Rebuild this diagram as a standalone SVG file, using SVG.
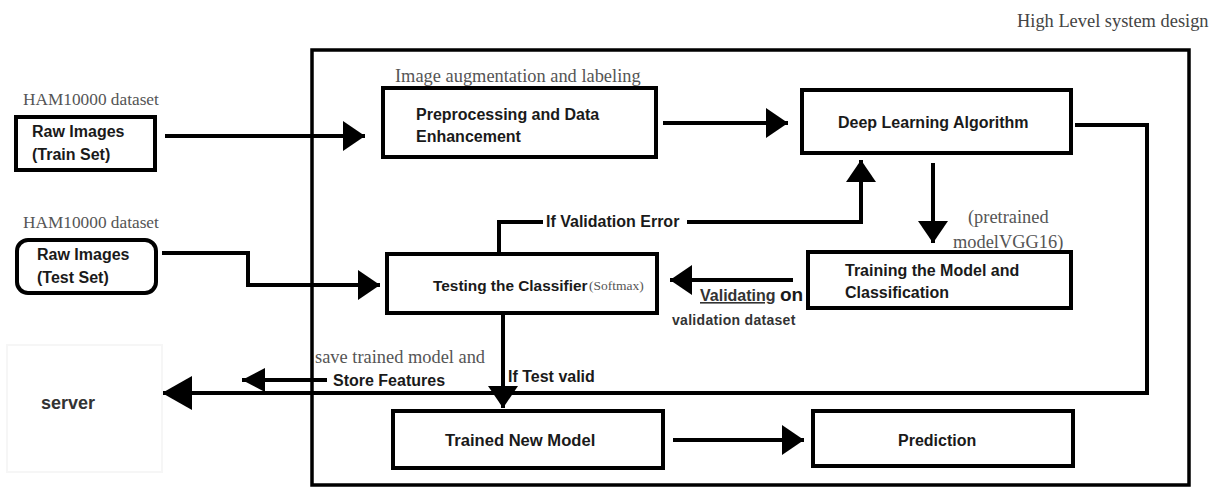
<svg xmlns="http://www.w3.org/2000/svg" width="1222" height="487" viewBox="0 0 1222 487">
<style>
.box{fill:#fff;stroke:#000;stroke-width:4}
.frame{fill:none;stroke:#000;stroke-width:3.5}
.ln{fill:none;stroke:#000;stroke-width:4}
.lbl{font-family:"Liberation Sans",Arial,sans-serif;font-weight:bold;font-size:16px;fill:#1a1a1a}
.ser{font-family:"Liberation Serif","Times New Roman",serif;font-size:18.4px;fill:#555}
</style>
<defs>
<marker id="ah" markerUnits="userSpaceOnUse" viewBox="0 0 22 30" markerWidth="22" markerHeight="30" refX="22" refY="15" orient="auto"><path d="M0,0 L22,15 L0,30 z" fill="#000"/></marker>
<marker id="ahL" markerUnits="userSpaceOnUse" viewBox="0 0 30 34" markerWidth="30" markerHeight="34" refX="30" refY="17" orient="auto"><path d="M0,0 L30,17 L0,34 z" fill="#000"/></marker>
<marker id="ahS" markerUnits="userSpaceOnUse" viewBox="0 0 23 24" markerWidth="23" markerHeight="24" refX="23" refY="12" orient="auto"><path d="M0,0 L23,12 L0,24 z" fill="#000"/></marker>
</defs>
<rect width="1222" height="487" fill="#fff"/>
<text class="ser" x="1017" y="27" style="fill:#444">High Level system design</text>
<rect class="frame" x="312" y="50" width="877" height="435"/>

<g id="connectors">
<path class="ln" d="M165,136 H365" marker-end="url(#ah)"/>
<path class="ln" d="M663,123 H788" marker-end="url(#ah)"/>
<path class="ln" d="M933,163 V243" marker-end="url(#ah)"/>
<path class="ln" d="M793,280 H670" marker-end="url(#ah)"/>
<path class="ln" d="M499,254 V222 H543"/>
<path class="ln" d="M687,222 H861 V160" marker-end="url(#ah)"/>
<path class="ln" d="M162,253 H248 V285 H380" marker-end="url(#ah)"/>
<path class="ln" d="M503,315 V408" marker-end="url(#ah)"/>
<path class="ln" d="M1075,125 H1147 V393 H162" marker-end="url(#ahL)"/>
<path class="ln" d="M327,380 H242" marker-end="url(#ahS)"/>
<path class="ln" d="M673,440 H804" marker-end="url(#ah)"/>
<text class="lbl" x="546" y="227">If Validation Error</text>
<text class="lbl" x="700" y="301" style="fill:#333" text-decoration="underline">Validating</text>
<text class="lbl" x="780" y="301" style="font-size:19px">on</text>
<text class="lbl" x="672" y="325" style="font-size:14px;fill:#333;letter-spacing:0.3px">validation dataset</text>
<text class="ser" x="315" y="363">save trained model and</text>
<text class="lbl" x="333" y="386">Store Features</text>
<text class="lbl" x="508" y="382">If Test valid</text>
<text class="ser" x="968" y="223">(pretrained</text>
<text class="ser" x="953" y="248">modelVGG16)</text>
<text class="ser" x="395" y="82">Image augmentation and labeling</text>
</g>

<g id="train-set">
<text class="ser" x="23" y="105" style="font-size:17.3px">HAM10000 dataset</text>
<rect class="box" x="16" y="117" width="139" height="53"/>
<text class="lbl" x="32" y="137">Raw Images</text>
<text class="lbl" x="32" y="160">(Train Set)</text>
</g>

<g id="test-set">
<text class="ser" x="23" y="228" style="font-size:17.3px">HAM10000 dataset</text>
<rect class="box" x="17" y="240" width="139" height="53" rx="11" ry="11"/>
<text class="lbl" x="37" y="260">Raw Images</text>
<text class="lbl" x="37" y="283">(Test Set)</text>
</g>

<g id="preprocessing">
<rect class="box" x="383" y="88" width="273" height="69"/>
<text class="lbl" x="416" y="120">Preprocessing and Data</text>
<text class="lbl" x="416" y="142">Enhancement</text>
</g>

<g id="deep-learning">
<rect class="box" x="802" y="90" width="269" height="63"/>
<text class="lbl" x="838" y="128">Deep Learning Algorithm</text>
</g>

<g id="training">
<rect class="box" x="808" y="252" width="263" height="56"/>
<text class="lbl" x="845" y="276">Training the Model and</text>
<text class="lbl" x="845" y="298">Classification</text>
</g>

<g id="testing">
<rect class="box" x="387" y="254" width="270" height="59"/>
<text class="lbl" x="433" y="291" style="font-size:15.4px">Testing the Classifier</text>
<text class="ser" x="589" y="290" style="font-size:13.5px">(Softmax)</text>
</g>

<g id="server">
<rect x="7" y="345" width="155" height="127" fill="#fff" stroke="#f6f6f6" stroke-width="2"/>
<text class="lbl" x="41" y="409" style="font-size:18px;fill:#333">server</text>
</g>

<g id="trained-model">
<rect class="box" x="393" y="411" width="270" height="57"/>
<text class="lbl" x="445" y="446" style="font-size:16.6px">Trained New Model</text>
</g>

<g id="prediction">
<rect class="box" x="813" y="411" width="260" height="55"/>
<text class="lbl" x="898" y="446">Prediction</text>
</g>
</svg>
